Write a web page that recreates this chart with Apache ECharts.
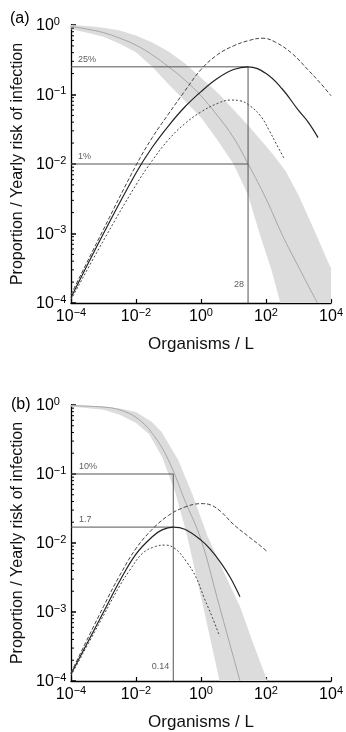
<!DOCTYPE html>
<html><head><meta charset="utf-8">
<script src="https://cdn.jsdelivr.net/npm/echarts@6/dist/echarts.min.js"></script>
<style>html,body{margin:0;padding:0;background:#fff;}#c{width:346px;height:732px;}</style>
</head><body><div id="c"></div>
<script>
// ---------- tick values ----------
const xTicks = [1e-4, 1e-2, 1, 1e2, 1e4];
const yTicks = [1e-4, 1e-3, 1e-2, 1e-1, 1];

// ---------- panel (a) ----------
const aBandUpper = [[1e-4,1],[3.16e-4,0.966],[1e-3,0.912],[3.16e-3,0.832],[0.01,0.708],[0.0316,0.562],[0.1,0.417],[0.316,0.282],[1,0.174],[3.7,0.1],[31.6,0.0339],[158,0.0141],[398,7.94e-3],[1000,3.55e-3],[3550,9.55e-4],[7590,4.17e-4],[1e4,3.16e-4],[1e4,1e-4]];
const aBandLower = [[1e-4,0.871],[3.16e-4,0.776],[1e-3,0.676],[3.16e-3,0.537],[0.01,0.407],[0.0316,0.251],[0.1,0.141],[0.316,0.0813],[1,0.0468],[3.16,0.0224],[10,0.01],[28.2,3.55e-3],[63.1,1e-3],[148,2.95e-4],[275,1e-4]];
const aCentre = [[1e-4,0.955],[3.16e-4,0.871],[1e-3,0.776],[3.16e-3,0.646],[0.01,0.513],[0.0316,0.372],[0.1,0.251],[0.316,0.162],[1,0.0955],[3.16,0.0501],[10,0.024],[28.2,0.01],[100,0.00316],[316,9.55e-4],[1000,3.31e-4],[3800,1e-4]];
const aSolid = [[1e-4,1.2e-4],[1e-3,1e-3],[0.01,7.41e-3],[0.0316,0.0174],[0.1,0.0355],[0.316,0.0661],[1,0.11],[3.16,0.17],[10,0.229],[28,0.25],[100,0.2],[316,0.12],[1000,0.0589],[2000,0.0398],[3980,0.024]];
const aUpperDash = [[1e-4,1.32e-4],[1e-3,1.15e-3],[0.01,9.55e-3],[0.0316,0.024],[0.1,0.0525],[0.316,0.112],[1,0.229],[3.16,0.372],[10,0.501],[31.6,0.603],[79.4,0.646],[200,0.562],[631,0.389],[2000,0.224],[5010,0.141],[1e4,0.0955]];
const aLowerDash = [[1e-4,1.12e-4],[1e-3,7.94e-4],[0.01,5.01e-3],[0.0316,0.0112],[0.1,0.0224],[0.316,0.038],[1,0.0562],[3.16,0.0741],[7.94,0.0832],[15.8,0.0813],[31.6,0.0692],[70.8,0.0479],[126,0.0302],[200,0.02],[363,0.012]];
const aRefHigh = [[1e-4,0.25],[28,0.25],[28,1e-4]];
const aRefLow = [[1e-4,0.01],[28,0.01]];
const aRefLabels = [['25%',1e-4,0.25],['1%',1e-4,0.01]];
const aDoseLabel = ['28',28,1e-4];

// ---------- panel (b) ----------
const bBandUpper = [[1e-4,1],[1e-3,0.955],[3.16e-3,0.89],[0.01,0.794],[0.0316,0.562],[0.0631,0.398],[0.2,0.158],[0.55,0.0501],[1.58,0.0126],[5.01,3.8e-3],[15.8,1.2e-3],[39.8,3.55e-4],[110,1e-4]];
const bBandLower = [[1e-4,0.955],[1e-3,0.851],[3.16e-3,0.724],[0.01,0.55],[0.0251,0.38],[0.0631,0.178],[0.158,0.0562],[0.355,0.0141],[1.12,1.29e-3],[3.72,1e-4]];
const bCentre = [[1e-4,0.977],[1e-3,0.933],[3.16e-3,0.851],[0.01,0.661],[0.0316,0.389],[0.1,0.158],[0.316,0.0417],[1,0.0112],[3.16,1.58e-3],[10,2.19e-4],[15.8,1e-4]];
const bSolid = [[1e-4,1.26e-4],[1e-3,1e-3],[3.16e-3,2.82e-3],[0.01,6.92e-3],[0.0316,0.0123],[0.0631,0.0155],[0.141,0.017],[0.316,0.0158],[1,0.011],[2,7.94e-3],[3.98,5.25e-3],[7.94,3.16e-3],[15.8,1.66e-3]];
const bUpperDash = [[1e-4,1.32e-4],[1e-3,1.2e-3],[3.16e-3,3.39e-3],[0.01,8.32e-3],[0.0316,0.0158],[0.1,0.0251],[0.316,0.0331],[1,0.0372],[2,0.0355],[3.98,0.0288],[10,0.0186],[31.6,0.012],[63.1,9.33e-3],[112,7.41e-3]];
const bLowerDash = [[1e-4,1.2e-4],[1e-3,8.91e-4],[3.16e-3,2.4e-3],[6.31e-3,3.98e-3],[0.0158,7.08e-3],[0.0398,8.91e-3],[0.0794,9.33e-3],[0.158,8.32e-3],[0.355,5.37e-3],[0.708,3.16e-3],[1.26,1.58e-3],[2.24,8.32e-4],[3.72,4.47e-4]];
const bRefHigh = [[1e-4,0.1],[0.14,0.1],[0.14,1e-4]];
const bRefLow = [[1e-4,0.017],[0.14,0.017]];
const bRefLabels = [['10%',1e-4,0.1],['1.7',1e-4,0.017]];
const bDoseLabel = ['0.14',0.14,1e-4];

const panelLabels = ['(a)','(b)'];
const xName = 'Organisms / L';
const yName = 'Proportion / Yearly risk of infection';

// ---------- styling helpers ----------
const FF = 'Liberation Sans, Arial, sans-serif';
const rich = {
  b:{fontSize:16, lineHeight:18, verticalAlign:'bottom', color:'#000', fontFamily:FF},
  s:{fontSize:11, lineHeight:11, verticalAlign:'top', color:'#000', fontFamily:FF}
};
function supFmt(v){
  const e = Math.round(Math.log10(v));
  return '{b|10}{s|' + (e < 0 ? '\u2212' + (-e) : e) + '}';
}
const minorVals = [];
yTicks.slice(0, -1).forEach(t => { for (let k = 2; k <= 9; k++) minorVals.push(k * t); });

const grids = [{left:71, right:14, top:25, height:278}, {left:71, right:14, top:405, height:279}];

function xAxis(i){
  return {type:'log', logBase:10, gridIndex:i, min:xTicks[0], max:xTicks[xTicks.length-1], interval:2,
    axisLine:{show:true, lineStyle:{color:'#000', width:1.3}},
    axisTick:{show:true, inside:true, length:4, lineStyle:{color:'#000', width:1.2}},
    splitLine:{show:false}, minorTick:{show:false},
    axisLabel:{formatter:supFmt, margin:4, rich:rich, showMinLabel:true, showMaxLabel:true, hideOverlap:false},
    name:xName, nameLocation:'middle', nameGap:33,
    nameTextStyle:{fontSize:17, color:'#111', fontFamily:FF}};
}
function yAxis(i){
  return {type:'log', logBase:10, gridIndex:i, min:yTicks[0], max:yTicks[yTicks.length-1], interval:1,
    axisLine:{show:true, lineStyle:{color:'#000', width:1.3}},
    axisTick:{show:true, inside:true, length:5, lineStyle:{color:'#000', width:1.5}},
    splitLine:{show:false}, minorTick:{show:false},
    axisLabel:{formatter:supFmt, margin:35, align:'left', rich:rich, showMinLabel:true, showMaxLabel:true},
    name:yName, nameLocation:'middle', nameGap:44,
    nameTextStyle:{fontSize:16, color:'#111', fontFamily:FF}};
}
function band(i, upper, lower){
  return {type:'custom', xAxisIndex:i, yAxisIndex:i, silent:true, z:1, data:[[1,0.01]],
    renderItem:function(params, api){
      const pts = upper.concat(lower.slice().reverse()).map(p => api.coord(p));
      return {type:'polygon', shape:{points:pts}, style:{fill:'#dcdcdc'}};
    }};
}
function minorTicks(i){
  return {type:'custom', xAxisIndex:i, yAxisIndex:i, silent:true, z:5,
    data:minorVals.map(v => [xTicks[0], v]),
    renderItem:function(params, api){
      const p = api.coord([api.value(0), api.value(1)]);
      return {type:'line', shape:{x1:p[0], y1:p[1], x2:p[0]+3, y2:p[1]}, style:{stroke:'#000', lineWidth:1}};
    }};
}
function curve(i, data, color, width, type, z, smooth){
  return {type:'line', xAxisIndex:i, yAxisIndex:i, data:data, showSymbol:false,
    smooth:(smooth === undefined ? 0.4 : smooth), silent:true, z:z||4,
    lineStyle:{color:color, width:width, type:type||'solid'}};
}
function labels(i, items, pos, align, vAlign){
  return {type:'scatter', xAxisIndex:i, yAxisIndex:i, symbolSize:0, silent:true, z:6,
    data:items.map(it => ({name:it[0], value:[it[1], it[2]]})),
    label:{show:true, formatter:'{b}', position:pos, align:align, verticalAlign:vAlign,
      fontSize:9, color:'#333', fontFamily:FF}};
}

const series = [
  band(0, aBandUpper, aBandLower),
  curve(0, aCentre, '#a6a6a6', 1, 'solid', 2),
  curve(0, aRefHigh, '#555', 1, 'solid', 3, false),
  curve(0, aRefLow, '#555', 1, 'solid', 3, false),
  curve(0, aSolid, '#222', 1.2),
  curve(0, aUpperDash, '#444', 1, [4,2]),
  curve(0, aLowerDash, '#444', 1, [2,2]),
  labels(0, aRefLabels, [7,-3], 'left', 'bottom'),
  labels(0, [aDoseLabel], [-4,-18], 'right', 'middle'),
  minorTicks(0),
  band(1, bBandUpper, bBandLower),
  curve(1, bCentre, '#a6a6a6', 1, 'solid', 2),
  curve(1, bRefHigh, '#555', 1, 'solid', 3, false),
  curve(1, bRefLow, '#555', 1, 'solid', 3, false),
  curve(1, bSolid, '#222', 1.2),
  curve(1, bUpperDash, '#444', 1, [4,2]),
  curve(1, bLowerDash, '#444', 1, [2,2]),
  labels(1, bRefLabels, [8,-3], 'left', 'bottom'),
  labels(1, [bDoseLabel], [-4,-14], 'right', 'middle'),
  minorTicks(1)
];

const chart = echarts.init(document.getElementById('c'), null, {renderer:'canvas'});
chart.setOption({
  animation:false,
  backgroundColor:'#fff',
  title:[
    {text:panelLabels[0], left:10, top:11, padding:0, textStyle:{fontSize:16, fontWeight:'normal', color:'#000', fontFamily:FF}},
    {text:panelLabels[1], left:11, top:397, padding:0, textStyle:{fontSize:16, fontWeight:'normal', color:'#000', fontFamily:FF}}
  ],
  grid:grids,
  xAxis:[xAxis(0), xAxis(1)],
  yAxis:[yAxis(0), yAxis(1)],
  series:series
});
</script></body></html>
